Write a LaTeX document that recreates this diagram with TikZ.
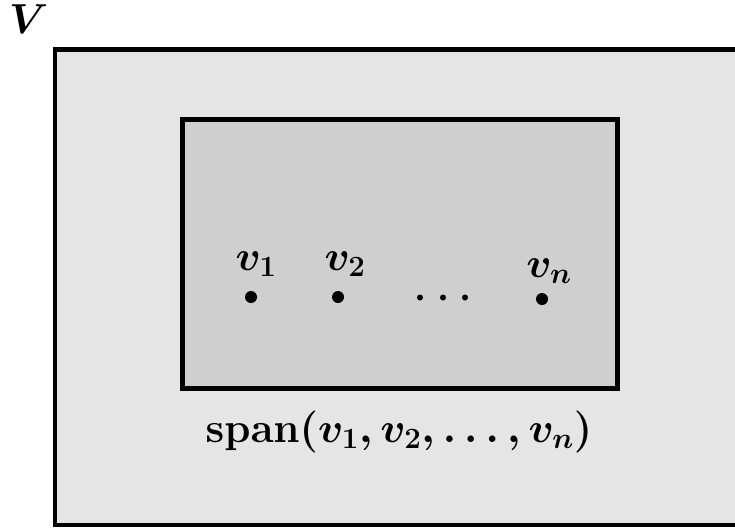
\RequirePackage{fix-cm}
\documentclass[tikz,border=0pt]{standalone}
\usepackage{amsmath}
\begin{document}
\begin{tikzpicture}[x=1pt,y=-1pt,
  lbl/.style={inner sep=0pt,font=\fontsize{42}{50}\selectfont\boldmath},
  vec/.style={circle,fill=black,inner sep=0pt,minimum size=12pt},
  sdot/.style={circle,fill=black,inner sep=0pt,minimum size=6pt},
  frame/.style={draw=black,line width=4.5pt}]
\useasboundingbox (0,0) rectangle (735,528);
\clip (0,0) rectangle (735,528);
\fill[white] (0,0) rectangle (735,528);
\draw[frame,fill=black!10] (55,49.5) rectangle (770,525);
\draw[frame,fill=black!19] (182.5,119.5) rectangle (617.5,388.5);
\node[lbl,anchor=base west] (V) at (9,33) {$V$};
\node[vec] (p1) at (251,297) {};
\node[vec] (p2) at (338,297) {};
\node[vec] (pn) at (542,299) {};
\node[sdot] (d1) at (420,297.5) {};
\node[sdot] (d2) at (443,297.5) {};
\node[sdot] (d3) at (465,297.5) {};
\node[lbl,anchor=base] (l1) at (256,270) {$v_1$};
\node[lbl,anchor=base] (l2) at (345,270) {$v_2$};
\node[lbl,anchor=base] (ln) at (549,277) {$v_n$};
\node[lbl,anchor=base] (span) at (399,442) {$\mathbf{span}(v_1,v_2,\ldots,v_n)$};
\end{tikzpicture}
\end{document}
